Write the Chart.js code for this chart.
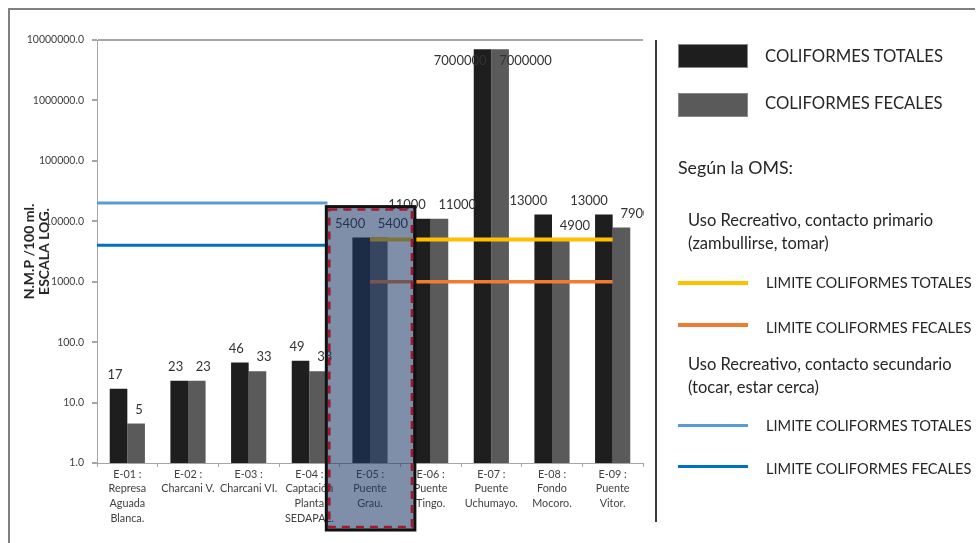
<!DOCTYPE html>
<html>
<head>
<meta charset="utf-8">
<script src="https://cdn.jsdelivr.net/npm/chart.js@4/dist/chart.umd.min.js"></script>
<style>
  html, body { margin:0; padding:0; background:#fff; }
  #wrap { position:relative; width:976px; height:543px; overflow:hidden; font-family: Lato, "Liberation Sans", sans-serif; color:#262626; }
  #c { position:absolute; left:0; top:0; }
  .frameTop { position:absolute; left:9px; top:8px; width:966px; height:2px; background:#808080; }
  .frameLeft { position:absolute; left:8px; top:8px; width:2px; height:535px; background:#808080; }
  .sep { position:absolute; left:655px; top:40px; width:2px; height:482px; background:#3a3a3a; }
  .sw { position:absolute; left:678px; width:70px; height:24px; box-sizing:border-box; border:1px solid #888; }
  .ln { position:absolute; left:678px; width:70px; }
  .tx { position:absolute; white-space:nowrap; transform:translateY(-50%); }
  .big { font-size:16.7px; }
  .mid { font-size:16.5px; }
  .lim { font-size:14.6px; }
</style>
</head>
<body>
<div id="wrap">
  <canvas id="c" width="976" height="543"></canvas>
  <div class="frameTop"></div>
  <div class="frameLeft"></div>
  <div class="sep"></div>
  <div class="sw" style="top:44px;background:#1e1e1e"></div>
  <div class="tx big" style="left:765px;top:56px">COLIFORMES TOTALES</div>
  <div class="sw" style="top:93px;background:#5a5a5a"></div>
  <div class="tx big" style="left:765px;top:103px">COLIFORMES FECALES</div>
  <div class="tx" style="left:678px;top:167px;font-size:17.8px">Según la OMS:</div>
  <div class="tx mid" style="left:688px;top:220px">Uso Recreativo, contacto primario</div>
  <div class="tx mid" style="left:688px;top:243px">(zambullirse, tomar)</div>
  <div class="ln" style="top:281px;height:4px;background:#ffc000"></div>
  <div class="tx lim" style="left:766px;top:282px">LIMITE COLIFORMES TOTALES</div>
  <div class="ln" style="top:323px;height:4px;background:#ed7d31"></div>
  <div class="tx lim" style="left:766px;top:327px">LIMITE COLIFORMES FECALES</div>
  <div class="tx mid" style="left:688px;top:364px">Uso Recreativo, contacto secundario</div>
  <div class="tx mid" style="left:688px;top:387px">(tocar, estar cerca)</div>
  <div class="ln" style="top:424px;height:3px;background:#5b9bd5"></div>
  <div class="tx lim" style="left:766px;top:425px">LIMITE COLIFORMES TOTALES</div>
  <div class="ln" style="top:465px;height:3px;background:#0070c0"></div>
  <div class="tx lim" style="left:766px;top:468px">LIMITE COLIFORMES FECALES</div>
</div>
<script>
// ---- data ----
const categories = [
  ["E-01 :", "Represa", "Aguada", "Blanca."],
  ["E-02 :", "Charcani V."],
  ["E-03 :", "Charcani VI."],
  ["E-04 :", "Captación", "Planta", "SEDAPAL."],
  ["E-05 :", "Puente", "Grau."],
  ["E-06 :", "Puente", "Tingo."],
  ["E-07 :", "Puente", "Uchumayo."],
  ["E-08 :", "Fondo", "Mocoro."],
  ["E-09 :", "Puente", "Vitor."]
];
const coliformesTotales = [17, 23, 46, 49, 5400, 11000, 7000000, 13000, 13000];
const coliformesFecales = [4.5, 23, 33, 33, 5400, 11000, 7000000, 4900, 7900];
const yTickValues = [1, 10, 100, 1000, 10000, 100000, 1000000, 10000000];

// WHO limits: [value, fromIndex, toIndex]
const limPrimarioTotales = [5000, 4, 8];
const limPrimarioFecales = [1000, 4, 8];
const limSecundarioTotales = [20000, -0.5, 3.3];
const limSecundarioFecales = [4000, -0.5, 3.3];
// highlighted station E-05: [fromIndex, toIndex, topValue]
const highlight = [3.28, 4.74, 17500];

const limitStyles = [
  [limSecundarioTotales, '#5b9bd5', 3],
  [limSecundarioFecales, '#0070c0', 3],
  [limPrimarioTotales, '#ffc000', 4],
  [limPrimarioFecales, '#ed7d31', 3.5]
];

const overlayPlugin = {
  id: 'overlay',
  afterDatasetsDraw(chart) {
    const ctx = chart.ctx, ca = chart.chartArea;
    const xs = chart.scales.xLin, ys = chart.scales.y;

    // limit lines
    ctx.save();
    limitStyles.forEach(([l, col, w]) => {
      const y = ys.getPixelForValue(l[0]);
      ctx.beginPath();
      ctx.strokeStyle = col;
      ctx.lineWidth = w;
      ctx.moveTo(xs.getPixelForValue(l[1]), y);
      ctx.lineTo(xs.getPixelForValue(l[2]), y);
      ctx.stroke();
    });
    ctx.restore();

    // value labels
    ctx.save();
    ctx.beginPath();
    ctx.rect(0, 0, ca.right + 1, chart.height);
    ctx.clip();
    ctx.font = '13px Lato, "Liberation Sans", sans-serif';
    ctx.fillStyle = '#333333';
    ctx.textBaseline = 'middle';
    [0, 1].forEach(di => {
      const meta = chart.getDatasetMeta(di);
      const data = chart.data.datasets[di].data;
      meta.data.forEach((bar, i) => {
        const txt = String(Math.round(data[i]));
        const y = Math.max(bar.y - 14, ca.top + 21);
        if (di === 0) { ctx.textAlign = 'right'; ctx.fillText(txt, bar.x + 4, y); }
        else { ctx.textAlign = 'left'; ctx.fillText(txt, bar.x - 1, y); }
      });
    });
    ctx.restore();

    // highlight box
    const x1 = xs.getPixelForValue(highlight[0]);
    const x2 = xs.getPixelForValue(highlight[1]);
    const y1 = ys.getPixelForValue(highlight[2]);
    const y2 = ca.bottom + 67;
    ctx.save();
    ctx.fillStyle = 'rgba(26,55,104,0.56)';
    ctx.fillRect(x1, y1, x2 - x1, y2 - y1);
    ctx.lineWidth = 3;
    ctx.strokeStyle = '#111111';
    ctx.strokeRect(x1, y1, x2 - x1, y2 - y1);
    ctx.lineWidth = 2.5;
    ctx.strokeStyle = '#a3182f';
    ctx.setLineDash([8, 6]);
    ctx.strokeRect(x1 + 3, y1 + 3, x2 - x1 - 6, y2 - y1 - 6);
    ctx.restore();
  }
};

new Chart(document.getElementById('c'), {
  type: 'bar',
  data: {
    labels: categories,
    datasets: [
      { label: 'COLIFORMES TOTALES', data: coliformesTotales, backgroundColor: '#1e1e1e',
        categoryPercentage: 0.58, barPercentage: 1.0 },
      { label: 'COLIFORMES FECALES', data: coliformesFecales, backgroundColor: '#5a5a5a',
        categoryPercentage: 0.58, barPercentage: 1.0 }
    ]
  },
  options: {
    responsive: false,
    animation: false,
    events: [],
    layout: { padding: { left: 22, right: 333, top: 40, bottom: 0 } },
    plugins: { legend: { display: false }, tooltip: { enabled: false } },
    scales: {
      x: {
        type: 'category', offset: true,
        grid: { offset: true, drawOnChartArea: false, color: '#a6a6a6', tickLength: 4 },
        border: { color: '#a6a6a6', width: 1 },
        ticks: { autoSkip: false, maxRotation: 0, minRotation: 0, padding: 0, color: '#404040',
                 font: { size: 10.8, family: 'Lato, "Liberation Sans", sans-serif', lineHeight: 1.35 } },
        afterFit(s) { s.height = 80; }
      },
      xLin: { type: 'linear', display: false, offset: false, min: -0.5, max: 8.5, grid: { offset: false } },
      y: {
        type: 'logarithmic', min: 1, max: 10000000,
        afterBuildTicks(s) { s.ticks = yTickValues.map(v => ({ value: v })); },
        ticks: { callback: v => Number(v).toFixed(1), color: '#404040', padding: 8,
                 font: { size: 10.5, family: 'Lato, "Liberation Sans", sans-serif' } },
        grid: { color: c => (c.tick && c.tick.value === 10000000) ? '#a6a6a6' : 'rgba(0,0,0,0)',
                tickColor: '#a6a6a6', tickLength: 5, lineWidth: 2 },
        border: { color: '#a6a6a6', width: 1 },
        title: { display: true, text: ['N.M.P /100 ml.', 'ESCALA LOG.'], color: '#262626',
                 font: { size: 14, weight: 'bold', family: 'Lato, "Liberation Sans", sans-serif', lineHeight: 1.08 }, padding: 0 },
        afterFit(s) { s.width = 75; }
      }
    }
  },
  plugins: [overlayPlugin]
});
</script>
</body>
</html>
